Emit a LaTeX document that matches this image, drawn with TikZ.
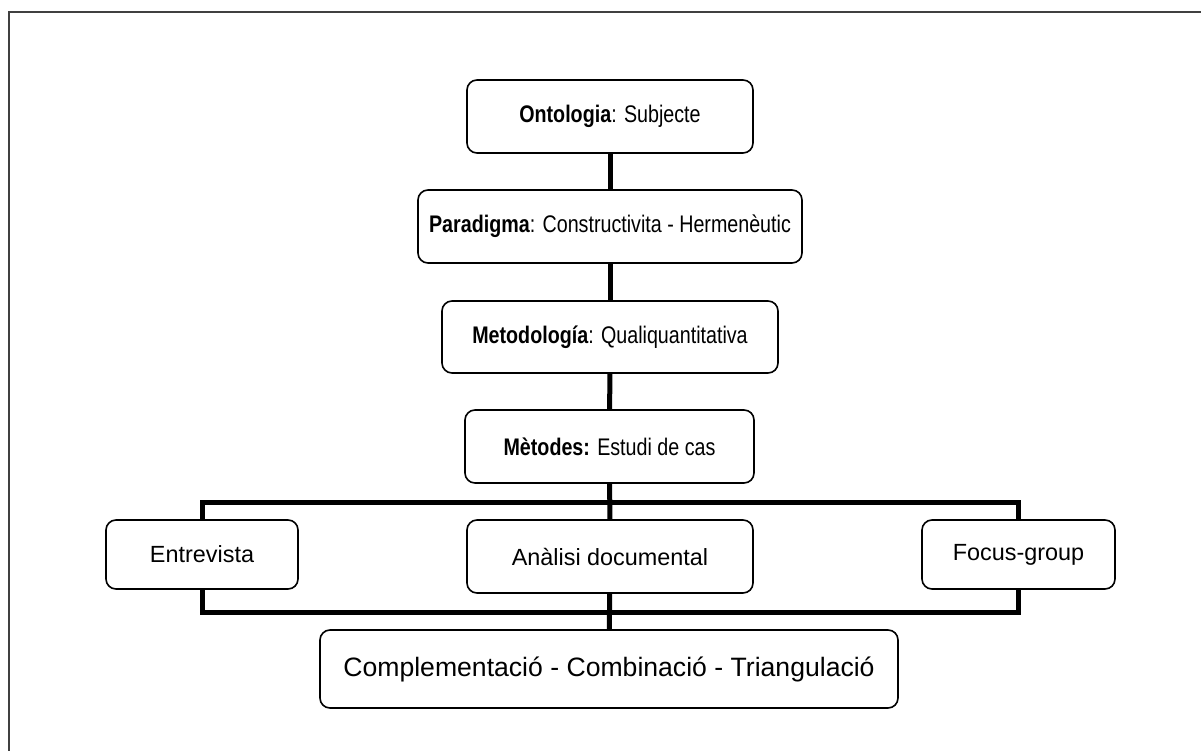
\documentclass[tikz,border=0pt]{standalone}
\usepackage{fontspec}
\setmainfont{Liberation Sans}
\newfontfamily\narrowfont[FakeStretch=0.82]{Liberation Sans}
\begin{document}
\begin{tikzpicture}[x=1pt,y=-1pt]
\tikzstyle{box}=[draw, rounded corners=10pt, line width=1.6pt, fill=white, inner sep=0pt, align=center]
\tikzstyle{narrowtext}=[font=\narrowfont\fontsize{24}{28}\selectfont]
\tikzstyle{plaintext}=[font=\fontsize{23.4}{28}\selectfont]
\tikzstyle{link}=[line width=5pt]
\useasboundingbox (0,0) rectangle (1201,751);
\draw[black!75, line width=2.2pt] (9,751) -- (9,12) -- (1201,12);
\coordinate (bustop) at (610,502);
\coordinate (busbot) at (610,612);
\node[box, narrowtext, minimum width=286pt, minimum height=73pt] (onto) at (610,116.5) {\textbf{Ontologia}: Subjecte};
\node[box, narrowtext, minimum width=384pt, minimum height=73pt] (para) at (610,226.5) {\textbf{Paradigma}: Constructivita - Hermenèutic};
\node[box, narrowtext, minimum width=336pt, minimum height=72pt] (meto) at (610,337) {\textbf{Metodología}: Qualiquantitativa};
\node[box, narrowtext, minimum width=289pt, minimum height=73pt] (metodes) at (609.5,446.5) {\textbf{Mètodes:} Estudi de cas};
\node[box, plaintext, minimum width=192pt, minimum height=69pt] (entr) at (202,554.5) {Entrevista};
\node[box, plaintext, minimum width=286pt, minimum height=73pt] (anal) at (610,556.5) {Anàlisi documental};
\node[box, plaintext, minimum width=193pt, minimum height=69pt] (focus) at (1018.5,554.5) {Focus-group};
\node[box, font=\fontsize{26.6}{32}\selectfont, minimum width=578pt, minimum height=78pt] (compl) at (609,669) {Complementació - Combinació - Triangulació};
\draw[link] (onto) -- (para);
\draw[link] (para) -- (meto);
\draw[link] (meto) -- (metodes);
\draw[link] (metodes) -- (anal);
\draw[link] (anal) -- (compl);
\draw[link] (entr.north) |- (bustop) -| (focus.north);
\draw[link] (entr.south) |- (busbot) -| (focus.south);
\end{tikzpicture}
\end{document}
